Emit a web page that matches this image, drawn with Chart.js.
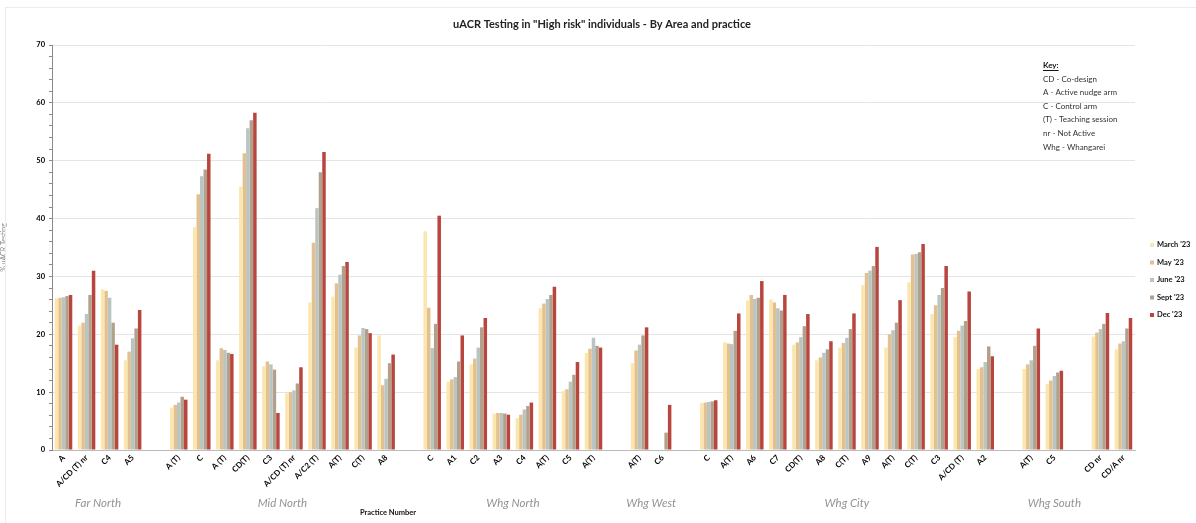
<!DOCTYPE html>
<html>
<head>
<meta charset="utf-8">
<script src="https://cdn.jsdelivr.net/npm/chart.js@4/dist/chart.umd.min.js"></script>
<style>
  html, body { margin: 0; padding: 0; background: #fff; }
  #wrap { width: 1196px; height: 523px; position: relative; }
</style>
</head>
<body>
<div id="wrap"><canvas id="c" width="1196" height="523"></canvas></div>
<script>
// Practice labels, grouped by area; "" marks the spacer slot between areas
const practices = [
  "A", "A/CD (T) nr", "C4", "A5", "",
  "A (T)", "C", "A (T)", "CD(T)", "C3", "A/CD (T) nr", "A/C2 (T)", "A(T)", "C(T)", "A8", "",
  "C", "A1", "C2", "A3", "C4", "A(T)", "C5", "A(T)", "",
  "A(T)", "C6", "",
  "C", "A(T)", "A6", "C7", "CD(T)", "A8", "C(T)", "A9", "A(T)", "C(T)", "C3", "A/CD (T)", "A2", "",
  "A(T)", "C5", "", "CD nr", "CD/A nr"
];

const seriesNames = ["March '23", "May '23", "June '23", "Sept '23", "Dec '23"];
const seriesColors = ["#fbe6ae", "#e2c08f", "#b9c5c2", "#b3a08b", "#b8453e"];

// % uACR testing per practice
const march23 = [26.2,21.5,27.8,15.5,null, 7.3,38.5,15.5,45.5,14.5,9.8,25.5,26.5,17.7,19.8,null, 37.8,11.8,14.8,6.3,5.5,24.5,10.2,16.8,null, 15.0,null,null, 8.1,18.6,25.8,26.0,18.2,15.5,17.7,28.5,17.7,29.0,23.5,19.5,14.0,null, 14.0,11.4,null,19.6,17.4];
const may23   = [26.3,22.0,27.5,17.0,null, 7.8,44.2,17.6,51.3,15.3,10.0,35.8,28.8,19.8,11.2,null, 24.6,12.2,15.8,6.4,6.1,25.3,10.5,17.5,null, 17.2,null,null, 8.2,18.4,26.8,25.5,18.6,16.0,18.5,30.6,20.0,33.8,25.0,20.6,14.3,null, 14.8,12.0,null,20.3,18.4];
const june23  = [26.4,23.5,26.3,19.3,null, 8.2,47.3,17.3,55.6,14.8,10.3,41.8,30.3,21.1,12.3,null, 17.6,12.6,17.7,6.4,7.0,26.1,11.8,19.4,null, 18.2,null,null, 8.3,18.3,26.1,24.5,19.5,16.8,19.4,31.0,20.7,33.9,26.8,21.5,15.2,null, 15.5,12.8,null,20.9,18.8];
const sept23  = [26.6,26.8,22.0,21.0,null, 9.2,48.5,16.8,57.0,13.9,11.5,48.0,31.8,20.9,15.0,null, 21.8,15.3,21.2,6.3,7.6,26.8,13.0,18.0,null, 19.8,3.0,null, 8.4,20.6,26.3,24.1,21.4,17.4,20.9,31.8,22.0,34.2,28.0,22.3,17.9,null, 18.0,13.4,null,21.8,21.0];
const dec23   = [26.8,31.0,18.2,24.2,null, 8.7,51.2,16.6,58.3,6.4,14.3,51.5,32.5,20.2,16.5,null, 40.5,19.8,22.8,6.1,8.2,28.2,15.2,17.7,null, 21.2,7.8,null, 8.6,23.6,29.2,26.8,23.5,18.8,23.6,35.1,25.9,35.6,31.8,27.4,16.2,null, 21.0,13.7,null,23.7,22.8];

// Area names with the first and last practice slot they label
const areaNames = ["Far North", "Mid North", "Whg North", "Whg West", "Whg City", "Whg South"];
const areaFirst = [0, 5, 16, 25, 28, 42];
const areaLast  = [3, 14, 23, 26, 40, 44];

const keyLines = ["CD - Co-design", "A - Active nudge arm", "C - Control arm", "(T) - Teaching session", "nr - Not Active", "Whg - Whangarei"];

const FONT = "Lato, 'Liberation Sans', sans-serif";

const decorations = {
  id: 'decorations',
  afterDraw(chart) {
    const ctx = chart.ctx;
    const xs = chart.scales.x;
    ctx.save();
    // faint frame
    ctx.strokeStyle = '#ececec';
    ctx.lineWidth = 1;
    ctx.strokeRect(5.5, 7.5, 1200, 530);

    // title
    ctx.fillStyle = '#222';
    ctx.font = "bold 11px " + FONT;
    ctx.textAlign = 'center';
    ctx.textBaseline = 'middle';
    ctx.fillText('uACR Testing in "High risk" individuals - By Area and practice', 602, 24);

    // area labels
    ctx.font = "italic 11.5px " + FONT;
    ctx.fillStyle = '#939393';
    for (let i = 0; i < areaNames.length; i++) {
      const x = (xs.getPixelForValue(areaFirst[i]) + xs.getPixelForValue(areaLast[i])) / 2;
      ctx.fillText(areaNames[i], x, 503);
    }

    // x axis title
    ctx.font = "bold 7.5px " + FONT;
    ctx.fillStyle = '#111';
    ctx.fillText('Practice Number', 388, 513);

    // key box
    ctx.textAlign = 'left';
    ctx.font = "bold 8px " + FONT;
    ctx.fillStyle = '#111';
    ctx.fillText('Key:', 1043, 65);
    const kw = ctx.measureText('Key:').width;
    ctx.fillRect(1043, 70, kw, 1);
    ctx.font = "8px " + FONT;
    ctx.fillStyle = '#333';
    keyLines.forEach((t, i) => ctx.fillText(t, 1043, 79 + i * 13.6));

    // series legend
    ctx.font = "bold 7.5px " + FONT;
    chart.data.datasets.forEach((ds, i) => {
      const y = 245 + i * 17.5;
      ctx.fillStyle = ds.backgroundColor;
      ctx.fillRect(1150, y - 2, 4, 4);
      ctx.fillStyle = '#111';
      ctx.fillText(ds.label, 1157, y);
    });
    ctx.restore();
  }
};

new Chart(document.getElementById('c'), {
  type: 'bar',
  data: {
    labels: practices,
    datasets: [march23, may23, june23, sept23, dec23].map((d, i) => ({
      label: seriesNames[i],
      data: d,
      backgroundColor: seriesColors[i],
      borderWidth: 0,
      categoryPercentage: 0.76,
      barPercentage: 1.0
    }))
  },
  options: {
    responsive: false,
    animation: false,
    devicePixelRatio: 1,
    layout: { padding: { top: 45, right: 61, left: 0, bottom: 0 } },
    plugins: {
      legend: { display: false },
      title: { display: false },
      tooltip: { enabled: false }
    },
    scales: {
      x: {
        grid: { display: false, drawTicks: false },
        border: { color: '#bbb' },
        ticks: {
          autoSkip: false,
          minRotation: 45,
          maxRotation: 45,
          padding: 3,
          color: '#000',
          font: { family: FONT, size: 8, weight: 'bold' }
        },
        afterFit(s) { s.height = 73; }
      },
      y: {
        min: 0,
        max: 70,
        grid: {
          color: (c) => (c.tick && c.tick.value % 10 === 0 && c.tick.value > 0) ? '#e4e4e4' : 'transparent',
          tickColor: '#8a8a8a',
          tickLength: 3,
          drawTicks: true
        },
        border: { color: '#8a8a8a' },
        ticks: {
          stepSize: 2,
          autoSkip: false,
          padding: 4,
          color: '#000',
          font: { family: FONT, size: 7.5, weight: 'bold' },
          callback: (v) => (v % 10 === 0 ? v : '')
        },
        title: {
          display: true,
          text: '% uACR Testing',
          color: '#888',
          font: { family: FONT, size: 7 },
          padding: { top: 0, bottom: 6 }
        },
        afterFit(s) { s.width = 52; }
      }
    }
  },
  plugins: [decorations]
});
</script>
</body>
</html>
